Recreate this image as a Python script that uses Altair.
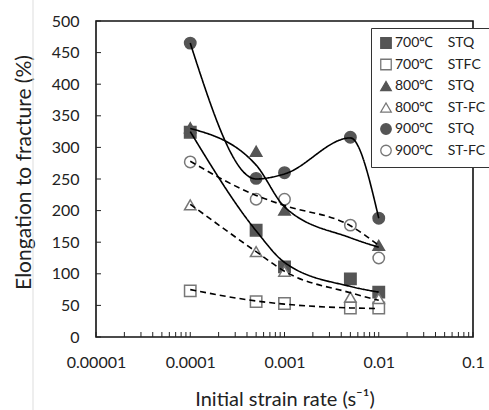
import altair as alt
import pandas as pd

# ---- data ----
NB = "\u00a0"
rates = [1e-4, 5e-4, 1e-3, 5e-3, 1e-2]
series = ["700℃" + NB * 4 + "STQ", "700℃" + NB * 4 + "STFC", "800℃" + NB * 4 + "STQ",
          "800℃" + NB * 4 + "ST-FC", "900℃" + NB * 4 + "STQ", "900℃" + NB * 4 + "ST-FC"]
el_700_stq = [324, 169, 111, 92, 71]
el_700_stfc = [73, 56, 53, 46, 46]
el_800_stq = [331, 294, 201, None, 145]
el_800_stfc = [209, 135, 104, 63, 61]
el_900_stq = [465, 251, 260, 316, 188]
el_900_stfc = [277, 218, 218, 177, 125]
measured = [el_700_stq, el_700_stfc, el_800_stq, el_800_stfc, el_900_stq, el_900_stfc]

# trend curves drawn in the reference (read at the same strain rates)
fit_700_stq = [325, 168, 118, 80, 71]
fit_700_stfc = [75, 57, 52, 46, 45]
fit_800_stq = [330, 272, 206, 157, 142]
fit_800_stfc = [210, 135, 104, 70, 58]
fit_900_stq = [465, 250, 258, 315, 188]
fit_900_stfc = [278, 224, 208, 176, 145]
fits = [fit_700_stq, fit_700_stfc, fit_800_stq, fit_800_stfc, fit_900_stq, fit_900_stfc]
fit_dash = ["solid", "dash", "solid", "dash", "solid", "dash"]

y_ticks = list(range(0, 501, 50))
x_decades = [1e-5, 1e-4, 1e-3, 1e-2, 1e-1]
x_minor = [m * d for d in x_decades[:-1] for m in range(1, 10)] + [1e-1]

rows = []
for s, vals in zip(series, measured):
    for r, v in zip(rates, vals):
        if v is not None:
            rows.append({"series": s, "rate": r, "el": v})
pts = pd.DataFrame(rows)

frows = []
for s, vals, d in zip(series, fits, fit_dash):
    for r, v in zip(rates, vals):
        frows.append({"series": s, "rate": r, "el": v, "dash": d})
fit_df = pd.DataFrame(frows)

FONT = "Lato"
XT = "Initial strain rate (s⁻¹)"
YT = "Elongation to fracture (%)"
xscale = alt.Scale(type="log", domain=[1e-5, 1e-1], nice=False)
yscale = alt.Scale(domain=[0, 500], nice=False)

xaxis = alt.Axis(values=x_decades, format=".5~f", title=XT,
                 grid=False, ticks=False, domain=False,
                 labelFont=FONT, labelFontSize=16, labelColor="#222", labelPadding=17,
                 labelFlush=False, labelOverlap=False,
                 titleFont=FONT, titleFontSize=20, titleFontWeight="normal",
                 titleColor="#222", titlePadding=19)
yaxis = alt.Axis(values=y_ticks, title=YT,
                 grid=False, ticks=False, domain=False, labelOverlap=False,
                 labelFont=FONT, labelFontSize=16, labelColor="#222", labelPadding=17,
                 titleFont=FONT, titleFontSize=21, titleFontWeight="normal",
                 titleColor="#222", titlePadding=17, titleY=151)

shape_range = ["square", "square", "triangle-up", "triangle-up", "circle", "circle"]
fill_range = ["#555555", "#ffffff", "#555555", "#ffffff", "#555555", "#ffffff"]
stroke_range = ["#555555", "#777777", "#555555", "#777777", "#555555", "#777777"]

legend = alt.Legend(title=None, orient="none", legendX=275, legendY=7,
                    labelFont=FONT, labelFontSize=14, labelColor="#222",
                    symbolSize=110, symbolStrokeWidth=1.3, rowPadding=5.5,
                    padding=8, strokeColor="#333", fillColor="white",
                    labelOffset=2, labelLimit=200)

points = alt.Chart(pts).mark_point(size=130, strokeWidth=1.5, filled=False, opacity=1).encode(
    x=alt.X("rate:Q", scale=xscale, axis=xaxis, title=XT),
    y=alt.Y("el:Q", scale=yscale, axis=yaxis, title=YT),
    shape=alt.Shape("series:N", scale=alt.Scale(domain=series, range=shape_range), legend=legend),
    fill=alt.Fill("series:N", scale=alt.Scale(domain=series, range=fill_range), legend=legend),
    stroke=alt.Stroke("series:N", scale=alt.Scale(domain=series, range=stroke_range), legend=legend),
)

lines = alt.Chart(fit_df).mark_line(color="black", strokeWidth=1.6, interpolate="monotone").encode(
    x=alt.X("rate:Q", scale=xscale, axis=xaxis, title=XT),
    y=alt.Y("el:Q", scale=yscale, axis=yaxis, title=YT),
    detail="series:N",
    strokeDash=alt.StrokeDash("dash:N", scale=alt.Scale(domain=["solid", "dash"],
                                                        range=[[1, 0], [6, 4]]), legend=None),
)

yt = alt.Chart(pd.DataFrame({"v": y_ticks})).mark_rule(color="#222", strokeWidth=1).encode(
    y=alt.Y("v:Q", scale=yscale, axis=yaxis, title=YT),
    x=alt.value(0), x2=alt.value(5))
xt = alt.Chart(pd.DataFrame({"v": x_minor})).mark_rule(color="#222", strokeWidth=1).encode(
    x=alt.X("v:Q", scale=xscale, axis=xaxis, title=XT),
    y=alt.value(316), y2=alt.value(311))

edge = alt.Chart(pd.DataFrame({"a": [0]})).mark_rule(color="#dddddd", strokeWidth=1, clip=False).encode(
    x=alt.value(-63), y=alt.value(-21), y2=alt.value(389))

chart = alt.layer(points, lines, yt, xt, edge).properties(
    width=377, height=316,
    autosize=alt.AutoSizeParams(type="none"),
    padding={"left": 96, "top": 21, "right": 16, "bottom": 73},
    background="white",
).configure_view(stroke="#111", strokeWidth=1.6).resolve_scale(
    shape="shared", fill="shared", stroke="shared")

chart.save("out.html", embed_options={"renderer": "svg", "actions": False})
